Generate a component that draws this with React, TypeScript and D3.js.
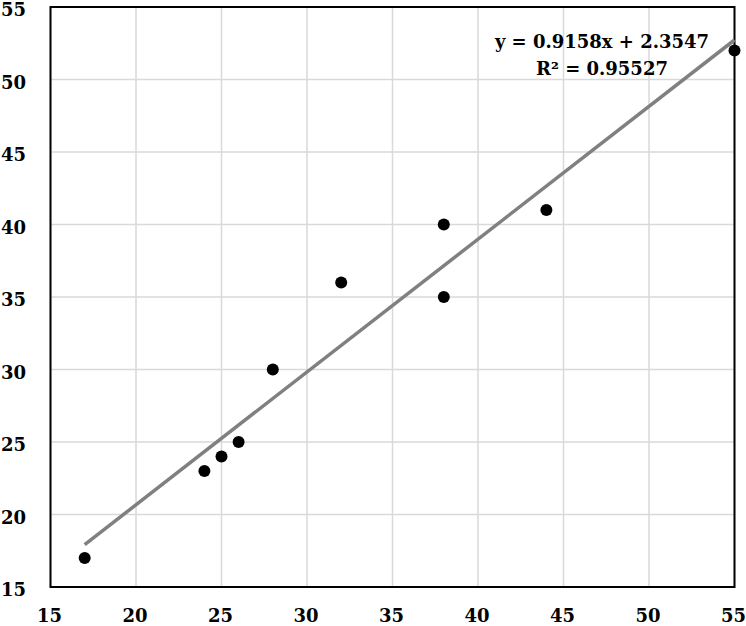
import * as d3 from "d3";
import React from "react";

const xValues = [17, 24, 25, 26, 28, 32, 38, 38, 44, 55];
const yValues = [17, 23, 24, 25, 30, 36, 40, 35, 41, 52];
const ticks = [15, 20, 25, 30, 35, 40, 45, 50, 55];
const slope = 0.9158;
const intercept = 2.3547;
const eqLines = ["y = 0.9158x + 2.3547", "R² = 0.95527"];

const W = 746, H = 626;
const margin = { left: 50.5, right: 11.5, top: 7, bottom: 39 };
const font = "'DejaVu Serif', 'Liberation Serif', serif";

export default function App() {
  const x = d3.scaleLinear().domain([15, 55]).range([margin.left, W - margin.right]);
  const y = d3.scaleLinear().domain([15, 55]).range([H - margin.bottom, margin.top]);

  const trendX = [d3.min(xValues), d3.max(xValues)] as number[];
  const line = d3.line<number>()
    .x(d => x(d))
    .y(d => y(slope * d + intercept));

  return (
    <svg width={W} height={H} style={{ position: "absolute", left: 0, top: 0, background: "#fff" }}
      fontFamily={font} fontWeight="bold">
      {/* grid */}
      {ticks.map(t => (
        <g key={"g" + t}>
          <line x1={x(t)} x2={x(t)} y1={y(15)} y2={y(55)} stroke="#d9d9d9" strokeWidth={1.5} />
          <line x1={x(15)} x2={x(55)} y1={y(t)} y2={y(t)} stroke="#d9d9d9" strokeWidth={1.5} />
        </g>
      ))}
      {/* frame */}
      <rect x={x(15)} y={y(55)} width={x(55) - x(15)} height={y(15) - y(55)}
        fill="none" stroke="#000" strokeWidth={2} />
      {/* trendline */}
      <path d={line(trendX) || ""} fill="none" stroke="#808080" strokeWidth={3.5} />
      {/* points */}
      {xValues.map((v, i) => (
        <circle key={i} cx={x(v)} cy={y(yValues[i])} r={6} fill="#000" />
      ))}
      {/* y tick labels */}
      {ticks.map(t => (
        <text key={"y" + t} x={26} y={y(t) + 9} textAnchor="end" fontSize={18}>{t}</text>
      ))}
      {/* x tick labels */}
      {ticks.map(t => (
        <text key={"x" + t} x={x(t) - 1} y={622} textAnchor="middle" fontSize={18}>{t}</text>
      ))}
      {/* equation */}
      {eqLines.map((s, i) => (
        <text key={"e" + i} x={602} y={48 + i * 27} textAnchor="middle" fontSize={18}>{s}</text>
      ))}
    </svg>
  );
}
